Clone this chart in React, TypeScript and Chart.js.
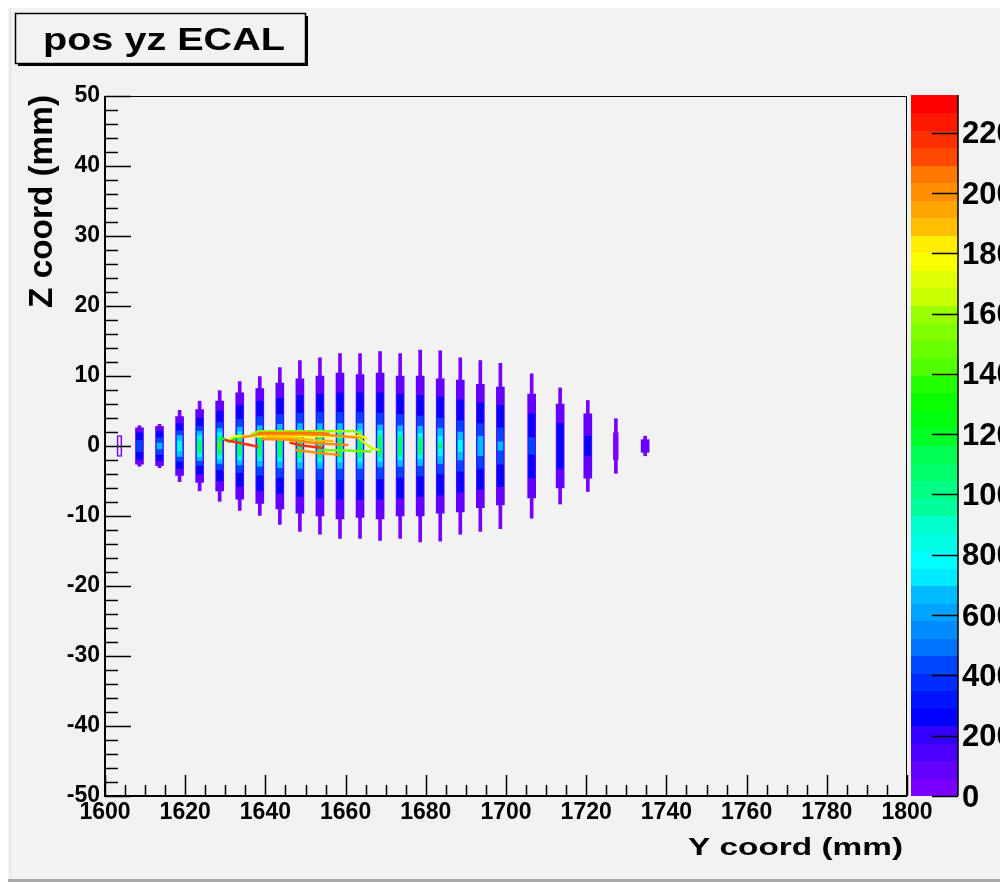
import React, { useEffect, useRef } from "react";
import { Chart, registerables } from "chart.js";

Chart.register(...registerables);

// ---------- data ----------
const COL_Y = [1603.6, 1608.6, 1613.6, 1618.6, 1623.6, 1628.6, 1633.6, 1638.6, 1643.6, 1648.6, 1653.6, 1658.6, 1663.6, 1668.6, 1673.6, 1678.6, 1683.6, 1688.6, 1693.6, 1698.6, 1706.4, 1713.5, 1720.4, 1727.4, 1734.7];
// half extents (mm) of the region above each contour level, per column
const TIP_HALF = [0, 2.9, 3.1, 5.1, 6.4, 7.9, 9.2, 9.9, 11.2, 12.2, 12.6, 13.2, 13.2, 13.5, 13.2, 13.7, 13.6, 12.6, 12.2, 11.8, 10.3, 8.3, 6.5, 3.9, 1.4];
const BODY_HALF = [0, 2.6, 2.8, 4.2, 5.2, 6.4, 7.6, 8.2, 9.0, 9.6, 10.0, 10.4, 10.2, 10.4, 10.0, 10.0, 9.6, 9.4, 8.8, 8.4, 7.4, 6.0, 4.6, 0, 0.9];
const L250_HALF = [0, 1.9, 2.1, 3.2, 4.0, 5.0, 5.8, 6.4, 6.8, 7.2, 7.4, 7.6, 7.6, 7.6, 7.4, 7.2, 7.0, 6.6, 6.2, 5.8, 4.6, 3.2, 1.4, 0, 0];
const L450_HALF = [0, 0.8, 1.2, 2.2, 2.8, 3.4, 3.8, 4.2, 4.5, 4.7, 4.8, 4.8, 4.8, 4.7, 4.5, 4.3, 4.0, 3.6, 3.2, 2.6, 1.2, 0, 0, 0, 0];
const L650_HALF = [0, 0, 0.4, 1.5, 2.1, 2.5, 2.7, 2.9, 3.1, 3.2, 3.2, 3.2, 3.2, 3.0, 2.9, 2.8, 2.5, 2.0, 1.4, 0.6, 0, 0, 0, 0, 0];
const L850_HALF = [0, 0, 0, 0.7, 1.5, 1.9, 2.0, 2.1, 2.2, 2.3, 2.3, 2.3, 2.3, 2.2, 2.0, 1.8, 1.4, 0.8, 0, 0, 0, 0, 0, 0, 0];
const L1100_HALF = [0, 0, 0, 0, 0.9, 1.3, 1.4, 1.5, 1.6, 1.7, 1.7, 1.7, 1.6, 1.5, 1.4, 1.2, 0.4, 0, 0, 0, 0, 0, 0, 0, 0];
const L1400_HALF = [0, 0, 0, 0, 0, 0.5, 0, 0, 0, 0, 0, 0, 0, 0, 0, 0, 0, 0, 0, 0, 0, 0, 0, 0, 0];
const LAYER_LEVELS = [0, 60, 250, 450, 650, 850, 1100, 1400];

// hollow contour outlines
const HOLLOW_Y = [1603.6, 1727.4];
const HOLLOW_LO = [-1.5, -2.0];
const HOLLOW_HI = [1.5, 1.9];

// contour line fragments (tracks): y positions, z positions, level
const TRACK_A_X = [1636.5, 1638.2, 1662.3, 1664.0];
const TRACK_A_Z = [1.6, 2.1, 2.1, 1.7];
const TRACK_B_X = [1631.0, 1632.4, 1664.0, 1665.5];
const TRACK_B_Z = [1.0, 1.4, 1.4, 1.0];
const TRACK_C_X = [1634.0, 1639.0, 1655.0, 1664.0];
const TRACK_C_Z = [1.2, 1.7, 1.6, 1.15];
const TRACK_D_X = [1639.0, 1646.0, 1652.4, 1660.7];
const TRACK_D_Z = [1.0, 0.9, 0.4, 0.14];
const TRACK_E_X = [1629.8, 1634.1, 1638.2];
const TRACK_E_Z = [0.86, 0.4, -0.1];
const TRACK_F_X = [1646.0, 1648.6, 1654.4];
const TRACK_F_Z = [0.5, 0.1, -0.3];
const TRACK_G_X = [1647.5, 1652.0, 1658.6];
const TRACK_G_Z = [-0.57, -0.9, -1.29];
const TRACK_H_X = [1654.4, 1660.0, 1666.5];
const TRACK_H_Z = [-0.57, -0.65, -0.8];
const TRACK_I_X = [1663.2, 1666.5, 1668.5];
const TRACK_I_Z = [1.1, -0.33, -0.6];
const TRACK_J_X = [1638.0, 1650.0, 1656.0];
const TRACK_J_Z = [1.85, 1.9, 1.75];
const TRACK_K_X = [1640.0, 1647.0, 1653.0, 1657.0];
const TRACK_K_Z = [1.3, 1.15, 0.8, 0.7];
const TRACK_L_X = [1629.0, 1631.0, 1633.0];
const TRACK_L_Z = [1.2, 0.6, 1.3];
const TRACKS = [
  { x: TRACK_L_X, z: TRACK_L_Z, level: 1300 },
  { x: TRACK_A_X, z: TRACK_A_Z, level: 1600 },
  { x: TRACK_B_X, z: TRACK_B_Z, level: 1800 },
  { x: TRACK_C_X, z: TRACK_C_Z, level: 2000 },
  { x: TRACK_J_X, z: TRACK_J_Z, level: 2050 },
  { x: TRACK_K_X, z: TRACK_K_Z, level: 1900 },
  { x: TRACK_D_X, z: TRACK_D_Z, level: 2000 },
  { x: TRACK_E_X, z: TRACK_E_Z, level: 2200 },
  { x: TRACK_F_X, z: TRACK_F_Z, level: 2200 },
  { x: TRACK_G_X, z: TRACK_G_Z, level: 2000 },
  { x: TRACK_H_X, z: TRACK_H_Z, level: 1500 },
  { x: TRACK_I_X, z: TRACK_I_Z, level: 1650 },
];

const X_MIN = 1600, X_MAX = 1800, X_STEP = 20, X_MINOR = 5;
const Y_MIN = -50, Y_MAX = 50, Y_STEP = 10, Y_MINOR = 2;
const Z_MAX = 2325;
const N_CONTOURS = 40;
const COLORBAR_TICKS = [0, 200, 400, 600, 800, 1000, 1200, 1400, 1600, 1800, 2000, 2200];

const TITLE = "pos yz ECAL";
const X_TITLE = "Y coord (mm)";
const Y_TITLE = "Z coord (mm)";

// ---------- palette (ROOT "pretty" palette) ----------
function hueToRgb(h: number): string {
  const hp = (h % 360) / 60;
  const x = 1 - Math.abs((hp % 2) - 1);
  let r = 0, g = 0, b = 0;
  if (hp < 1) { r = 1; g = x; }
  else if (hp < 2) { r = x; g = 1; }
  else if (hp < 3) { g = 1; b = x; }
  else if (hp < 4) { g = x; b = 1; }
  else if (hp < 5) { r = x; b = 1; }
  else { r = 1; b = x; }
  return `rgb(${Math.round(r * 255)},${Math.round(g * 255)},${Math.round(b * 255)})`;
}
function bandColor(band: number): string {
  const idx = Math.min(49, Math.floor((band + 0.99) * 50 / N_CONTOURS));
  const hue = 280 - (idx + 1) * (280 / 50);
  return hueToRgb(hue);
}
function colorFor(v: number): string {
  const band = Math.max(0, Math.min(N_CONTOURS - 1, Math.floor(v / (Z_MAX / N_CONTOURS))));
  return bandColor(band);
}

const FONT = '"Liberation Sans", Arial, Helvetica, sans-serif';

const decorPlugin = {
  id: "decor",
  beforeDraw(chart: any) {
    const { ctx, width, height } = chart;
    ctx.save();
    ctx.fillStyle = "#f2f2f2";
    ctx.fillRect(0, 0, width, height);
    ctx.restore();
  },
  afterDraw(chart: any) {
    const { ctx, width, height } = chart;
    const { left, right, top, bottom } = chart.chartArea;
    const xs = chart.scales.x;
    const ys = chart.scales.y;
    ctx.save();
    // frame
    ctx.strokeStyle = "#000";
    ctx.lineWidth = 1;
    ctx.strokeRect(left + 0.5, top + 0.5, right - left - 1, bottom - top);
    ctx.lineWidth = 2;
    ctx.beginPath();
    ctx.moveTo(left, top);
    ctx.lineTo(left, bottom);
    ctx.lineTo(right, bottom);
    ctx.stroke();
    // ticks (inside)
    ctx.lineWidth = 1.5;
    ctx.beginPath();
    for (let v = X_MIN; v <= X_MAX + 1e-6; v += X_MINOR) {
      const p = Math.round(xs.getPixelForValue(v)) + 0.5;
      const len = Math.abs((v - X_MIN) % X_STEP) < 1e-6 ? 21 : 11;
      ctx.moveTo(p, bottom);
      ctx.lineTo(p, bottom - len);
    }
    for (let v = Y_MIN; v <= Y_MAX + 1e-6; v += Y_MINOR) {
      const p = Math.round(ys.getPixelForValue(v)) + 0.5;
      const len = Math.abs((v - Y_MIN) % Y_STEP) < 1e-6 ? 26 : 13;
      ctx.moveTo(left, p);
      ctx.lineTo(left + len, p);
    }
    ctx.stroke();

    // colour bar
    const cbL = 903, cbR = 950;
    const cbTop = top - 1, cbBot = bottom;
    const pix = (v: number) => cbBot - (v / Z_MAX) * (cbBot - cbTop);
    for (let i = 0; i < N_CONTOURS; i++) {
      const v0 = (i * Z_MAX) / N_CONTOURS;
      const v1 = ((i + 1) * Z_MAX) / N_CONTOURS;
      ctx.fillStyle = bandColor(i);
      const y0 = pix(v0), y1 = pix(v1);
      ctx.fillRect(cbL, Math.floor(y1), cbR - cbL, Math.ceil(y0) - Math.floor(y1));
    }
    ctx.strokeStyle = "#000";
    ctx.lineWidth = 1.5;
    ctx.beginPath();
    ctx.moveTo(cbR, cbTop);
    ctx.lineTo(cbR, cbBot);
    for (const t of COLORBAR_TICKS) {
      const p = Math.round(pix(t)) + 0.5;
      ctx.moveTo(cbR, p);
      ctx.lineTo(cbR - 26, p);
    }
    ctx.stroke();
    ctx.fillStyle = "#000";
    ctx.font = `bold 31px ${FONT}`;
    ctx.textAlign = "left";
    ctx.textBaseline = "middle";
    for (const t of COLORBAR_TICKS) {
      ctx.fillText(String(t), 954, pix(t) + 2);
    }

    // title box
    ctx.fillStyle = "#000";
    ctx.fillRect(297, 8, 3, 50);
    ctx.fillRect(10, 55, 290, 3);
    ctx.lineWidth = 1.5;
    ctx.strokeRect(7.5, 5.5, 290, 50);
    ctx.font = `bold 31px ${FONT}`;
    ctx.textAlign = "left";
    ctx.textBaseline = "alphabetic";
    let w = ctx.measureText(TITLE).width;
    ctx.save();
    ctx.translate(35, 41.5);
    ctx.scale(242 / w, 1);
    ctx.fillText(TITLE, 0, 0);
    ctx.restore();

    // x title
    ctx.font = `bold 24px ${FONT}`;
    w = ctx.measureText(X_TITLE).width;
    ctx.save();
    ctx.translate(895 - 215, 847);
    ctx.scale(215 / w, 1);
    ctx.fillText(X_TITLE, 0, 0);
    ctx.restore();

    // y title
    ctx.font = `bold 33px ${FONT}`;
    w = ctx.measureText(Y_TITLE).width;
    ctx.save();
    ctx.translate(44, 300);
    ctx.rotate(-Math.PI / 2);
    ctx.scale(213 / w, 1);
    ctx.fillText(Y_TITLE, 0, 0);
    ctx.restore();

    // panel border
    ctx.fillStyle = "#dedede";
    ctx.fillRect(2, 0, 1, height);
    ctx.fillStyle = "#b4b4b4";
    ctx.fillRect(width - 3, 0, 3, height);
    ctx.fillStyle = "#a8a8a8";
    ctx.fillRect(0, height - 3, width, 3);
    ctx.restore();
  },
};

function barLayer(halves: number[], level: number, thickness: number, order: number) {
  const data: any[] = [];
  COL_Y.forEach((x, i) => {
    if (halves[i] > 0) data.push({ x, y: [-halves[i], halves[i]] });
  });
  return {
    type: "bar",
    data,
    backgroundColor: colorFor(level),
    borderWidth: 0,
    barThickness: thickness,
    grouped: false,
    order,
  };
}

export default function App() {
  const ref = useRef<HTMLCanvasElement | null>(null);
  useEffect(() => {
    document.documentElement.style.overflow = "hidden";
    document.body.style.overflow = "hidden";
    const canvas = ref.current;
    if (!canvas) return;
    const halvesList = [TIP_HALF, BODY_HALF, L250_HALF, L450_HALF, L650_HALF, L850_HALF, L1100_HALF, L1400_HALF];
    const widths = [3, 8, 6, 6, 5, 4, 4, 3];
    const datasets: any[] = [];
    halvesList.forEach((h, k) => {
      datasets.push(barLayer(h, LAYER_LEVELS[k], widths[k], 40 - k * 2));
    });
    datasets.push({
      type: "bar",
      data: HOLLOW_Y.map((x, i) => ({ x, y: [HOLLOW_LO[i], HOLLOW_HI[i]] })),
      backgroundColor: "rgba(0,0,0,0)",
      borderColor: colorFor(0),
      borderWidth: 1,
      borderSkipped: false,
      barThickness: 5,
      grouped: false,
      order: 39,
    });
    TRACKS.forEach((t, k) => {
      datasets.push({
        type: "line",
        data: t.x.map((x, i) => ({ x, y: t.z[i] })),
        borderColor: colorFor(t.level),
        borderWidth: 2.5,
        pointRadius: 0,
        fill: false,
        tension: 0,
        order: 5 - k * 0.1,
      });
    });
    const chart = new Chart(canvas, {
      type: "bar",
      data: { datasets },
      options: {
        animation: false,
        responsive: false,
        devicePixelRatio: 1,
        layout: { padding: { left: 0, right: 97, top: 88, bottom: 0 } },
        plugins: { legend: { display: false }, tooltip: { enabled: false }, title: { display: false } },
        scales: {
          x: {
            type: "linear",
            offset: false,
            min: X_MIN,
            max: X_MAX,
            grid: { display: false, drawTicks: false },
            border: { display: false },
            ticks: {
              stepSize: X_STEP,
              autoSkip: false,
              maxRotation: 0,
              padding: 3,
              color: "#000",
              font: { family: FONT, weight: "bold", size: 23 },
              callback: (v: any) => String(v),
            },
            afterFit: (s: any) => { s.height = 86; },
          },
          y: {
            type: "linear",
            min: Y_MIN,
            max: Y_MAX,
            grid: { display: false, drawTicks: false },
            border: { display: false },
            ticks: {
              stepSize: Y_STEP,
              padding: 5,
              color: "#000",
              font: { family: FONT, weight: "bold", size: 23 },
              callback: (v: any) => String(v),
            },
            afterFit: (s: any) => { s.width = 97; },
          },
        },
      } as any,
      plugins: [decorPlugin as any],
    });
    return () => chart.destroy();
  }, []);
  return <canvas ref={ref} width={996} height={874} style={{ display: "block" }} />;
}
